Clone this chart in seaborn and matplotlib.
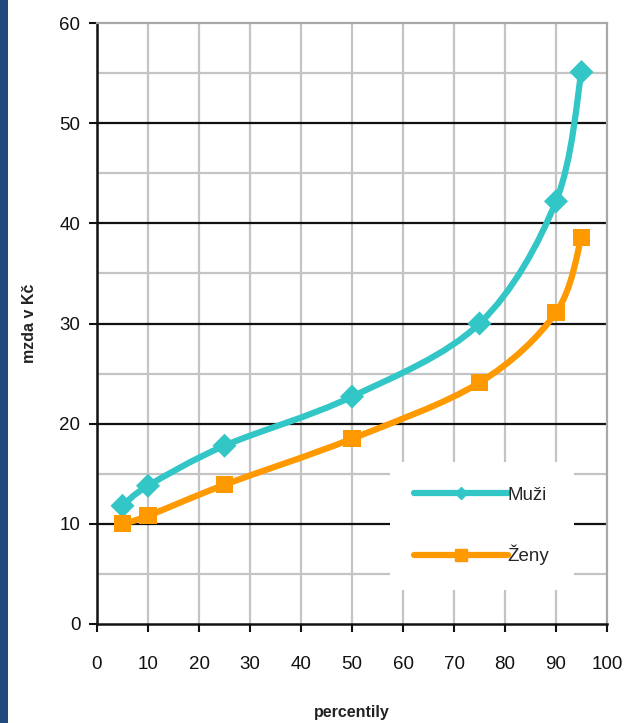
import matplotlib
matplotlib.use("Agg")
import matplotlib.pyplot as plt
from matplotlib.path import Path
from matplotlib.patches import PathPatch, Rectangle
from matplotlib.lines import Line2D
import seaborn as sns
import numpy as np
import pandas as pd

# data
percentiles = [5, 10, 25, 50, 75, 90, 95]
muzi = [11.8, 13.8, 17.8, 22.7, 30.0, 42.2, 55.1]
zeny = [10.0, 10.8, 13.9, 18.5, 24.1, 31.1, 38.6]
series_names = ["Muži", "Ženy"]
x_ticks = list(range(0, 101, 10))
y_ticks = list(range(0, 61, 10))

CYAN = "#33C6C6"
ORANGE = "#FF9900"

sns.set_theme(style="white")
plt.rcParams["font.family"] = ["Liberation Sans", "DejaVu Sans"]


def smooth_path(xs, ys):
    """Excel-like smoothed line: Catmull-Rom segments as cubic Beziers."""
    pts = np.column_stack([xs, ys]).astype(float)
    verts = [pts[0]]
    codes = [Path.MOVETO]
    n = len(pts)
    for i in range(n - 1):
        p0 = pts[i - 1] if i > 0 else pts[i]
        p1, p2 = pts[i], pts[i + 1]
        p3 = pts[i + 2] if i + 2 < n else pts[i + 1]
        c1 = p1 + (p2 - p0) / 6.0
        c2 = p2 - (p3 - p1) / 6.0
        verts += [c1, c2, p2]
        codes += [Path.CURVE4] * 3
    return Path(verts, codes)


df = pd.DataFrame({
    "percentil": percentiles * 2,
    "mzda": muzi + zeny,
    "pohlaví": [series_names[0]] * len(muzi) + [series_names[1]] * len(zeny),
})

fig = plt.figure(figsize=(6.29, 7.23), dpi=100)
fig.patch.set_facecolor("white")
fig.patches.append(Rectangle((0, 0), 8 / 629, 1, transform=fig.transFigure,
                             facecolor="#1F4B7E", edgecolor="none"))
ax = fig.add_axes([97 / 629, 1 - 624 / 723, 510 / 629, 601 / 723])

ax.set_xlim(0, 100)
ax.set_ylim(0, 60)

# grid
for xv in x_ticks[1:-1]:
    ax.axvline(xv, color="#C4C4C4", lw=1.6, zorder=0)
for yv in range(5, 60, 10):
    ax.axhline(yv, color="#C4C4C4", lw=1.6, zorder=0)
for yv in y_ticks[1:-1]:
    ax.axhline(yv, color="#111111", lw=1.6, zorder=0.5)

# smoothed lines
for ys, col in [(muzi, CYAN), (zeny, ORANGE)]:
    ax.add_patch(PathPatch(smooth_path(percentiles, ys), facecolor="none",
                           edgecolor=col, lw=4.5, capstyle="round",
                           joinstyle="round", zorder=2))

# markers
sns.scatterplot(data=df, x="percentil", y="mzda", hue="pohlaví", style="pohlaví",
                markers={"Muži": "D", "Ženy": "s"},
                palette={"Muži": CYAN, "Ženy": ORANGE},
                s=150, linewidth=0, legend=False, ax=ax, zorder=3)

ax.set_xticks(x_ticks)
ax.set_yticks(y_ticks)
ax.tick_params(axis="both", direction="out", length=6, width=1.5, color="#111111",
               labelsize=13.5, labelcolor="#111111", pad=6)
ax.tick_params(axis="x", pad=17)
ax.tick_params(top=False, right=False, bottom=True, left=True)

for side in ["left", "bottom"]:
    ax.spines[side].set_color("#111111")
    ax.spines[side].set_linewidth(1.8)
for side in ["top", "right"]:
    ax.spines[side].set_color("#A8A8A8")
    ax.spines[side].set_linewidth(1.6)

ax.set_xlabel("percentily", fontsize=11.5, fontweight="bold", color="#222222", labelpad=23)
ax.set_ylabel("mzda v Kč", fontsize=11.5, fontweight="bold", color="#222222", labelpad=16)

handles = [
    Line2D([], [], color=CYAN, lw=4.5, marker="D", markersize=6, solid_capstyle="round"),
    Line2D([], [], color=ORANGE, lw=4.5, marker="s", markersize=8, solid_capstyle="round"),
]
leg = ax.legend(handles, series_names, loc="lower right", bbox_to_anchor=(0.935, 0.057),
                frameon=True, fontsize=13.5, handlelength=5.0, handletextpad=0.0,
                labelspacing=2.2, borderpad=1.3, borderaxespad=0)
leg.get_frame().set_facecolor("white")
leg.get_frame().set_edgecolor("none")
leg.get_frame().set_alpha(1)
leg.set_zorder(5)

fig.savefig("out.png", dpi=100)
